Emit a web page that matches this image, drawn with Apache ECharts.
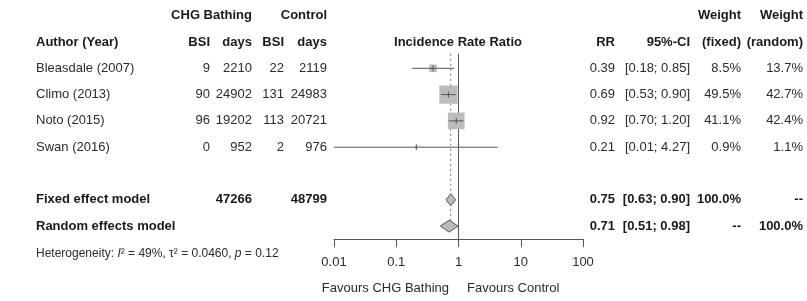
<!DOCTYPE html>
<html>
<head>
<meta charset="utf-8">
<script src="https://cdn.jsdelivr.net/npm/echarts@6/dist/echarts.min.js"></script>
<style>
  html, body { margin: 0; padding: 0; background: #fff; }
  #main { width: 807px; height: 301px; }
</style>
</head>
<body>
<div id="main"></div>
<script>
// study level data
var studies = ['Bleasdale (2007)', 'Climo (2013)', 'Noto (2015)', 'Swan (2016)'];
var chgBsi = [9, 90, 96, 0];
var chgDays = [2210, 24902, 19202, 952];
var ctlBsi = [22, 131, 113, 2];
var ctlDays = [2119, 24983, 20721, 976];
var rr = [0.39, 0.69, 0.92, 0.21];
var ciLow = [0.18, 0.53, 0.70, 0.01];
var ciHigh = [0.85, 0.90, 1.20, 4.27];
var wFixed = [8.5, 49.5, 41.1, 0.9];
var wRandom = [13.7, 42.7, 42.4, 1.1];

// pooled estimates
var modelNames = ['Fixed effect model', 'Random effects model'];
var modelRR = [0.75, 0.71];
var modelLow = [0.63, 0.51];
var modelHigh = [0.90, 0.98];
var modelChgDays = ['47266', ''];
var modelCtlDays = ['48799', ''];
var modelWFixed = ['100.0%', '--'];
var modelWRandom = ['--', '100.0%'];

var xTicks = [0.01, 0.1, 1, 10, 100];

(function() {
    var FONT = '"Liberation Sans", Arial, sans-serif';
    var ROW0 = 42, ROWH = 26.3;   // pixel y of header row, row spacing
    var DARK = '#555', TXT = '#2b2b2b';

    var chart = echarts.init(document.getElementById('main'), null, {renderer: 'canvas'});

    function rowY(r) { return ROW0 + ROWH * r; }
    function fmt2(v) { return v.toFixed(2); }
    function ci(lo, hi) { return '[' + fmt2(lo) + '; ' + fmt2(hi) + ']'; }

    var graphics = [];
    function txt(s, x, y, align, bold, size) {
        graphics.push({
            type: 'text', x: x, y: y, silent: true,
            style: {
                text: s, fill: bold ? '#1a1a1a' : TXT,
                font: (bold ? 'bold ' : '') + (size || 13) + 'px ' + FONT,
                align: align || 'left', verticalAlign: 'middle',
                textAlign: align || 'left', textVerticalAlign: 'middle'
            }
        });
    }

    // column headers
    txt('CHG Bathing', 252, 15, 'right', true);
    txt('Control', 327, 15, 'right', true);
    txt('Weight', 741, 15, 'right', true);
    txt('Weight', 803, 15, 'right', true);
    txt('Author (Year)', 36, rowY(0), 'left', true);
    txt('BSI', 210, rowY(0), 'right', true);
    txt('days', 252, rowY(0), 'right', true);
    txt('BSI', 284, rowY(0), 'right', true);
    txt('days', 327, rowY(0), 'right', true);
    txt('Incidence Rate Ratio', 458, rowY(0), 'center', true);
    txt('RR', 615, rowY(0), 'right', true);
    txt('95%-CI', 690, rowY(0), 'right', true);
    txt('(fixed)', 741, rowY(0), 'right', true);
    txt('(random)', 803, rowY(0), 'right', true);

    var studyRows = [];
    studies.forEach(function(name, i) {
        var r = i + 1, y = rowY(r);
        studyRows.push(r);
        txt(name, 36, y, 'left');
        txt(String(chgBsi[i]), 210, y, 'right');
        txt(String(chgDays[i]), 252, y, 'right');
        txt(String(ctlBsi[i]), 284, y, 'right');
        txt(String(ctlDays[i]), 327, y, 'right');
        txt(fmt2(rr[i]), 615, y, 'right');
        txt(ci(ciLow[i], ciHigh[i]), 690, y, 'right');
        txt(wFixed[i].toFixed(1) + '%', 741, y, 'right');
        txt(wRandom[i].toFixed(1) + '%', 803, y, 'right');
    });

    var modelRows = [];
    modelNames.forEach(function(name, j) {
        var r = studies.length + 2 + j, y = rowY(r);
        modelRows.push(r);
        txt(name, 36, y, 'left', true);
        txt(modelChgDays[j], 252, y, 'right', true);
        txt(modelCtlDays[j], 327, y, 'right', true);
        txt(fmt2(modelRR[j]), 615, y, 'right', true);
        txt(ci(modelLow[j], modelHigh[j]), 690, y, 'right', true);
        txt(modelWFixed[j], 741, y, 'right', true);
        txt(modelWRandom[j], 803, y, 'right', true);
    });

    // heterogeneity line, italic symbols
    graphics.push({
        type: 'text', x: 36, y: rowY(modelRows[1] + 1) + 1, silent: true,
        style: {
            text: 'Heterogeneity: {i|I}\u00b2 = 49%, \u03c4\u00b2 = 0.0460, {i|p} = 0.12',
            fill: TXT, font: '12px ' + FONT,
            align: 'left', verticalAlign: 'middle', textAlign: 'left', textVerticalAlign: 'middle',
            rich: { i: { fontStyle: 'italic', fontSize: 12, fontFamily: FONT, fill: TXT } }
        }
    });
    txt('Favours CHG Bathing', 449, 288, 'right', false, 13);
    txt('Favours Control', 467, 288, 'left', false, 13);

    var lastRow = modelRows[1] + 0.5;

    // reference lines: [x, rowFrom, rowTo, dotted]
    var refData = [
        [1, 0.45, lastRow, 0],
        [modelRR[0], 0.45, modelRows[1], 1]
    ];

    var studyData = studies.map(function(s, i) {
        return [rr[i], studyRows[i], ciLow[i], ciHigh[i], wFixed[i]];
    });
    var modelData = modelNames.map(function(s, j) {
        return [modelRR[j], modelRows[j], modelLow[j], modelHigh[j]];
    });

    var option = {
        animation: false,
        backgroundColor: '#fff',
        grid: { left: 334, right: 224, top: ROW0, bottom: 301 - rowY(lastRow) },
        xAxis: {
            type: 'log', logBase: 10, min: xTicks[0], max: xTicks[xTicks.length - 1],
            position: 'bottom',
            axisLine: { show: true, onZero: false, lineStyle: { color: DARK, width: 1 } },
            axisTick: { show: true, inside: false, length: 8, lineStyle: { color: DARK } },
            axisLabel: {
                margin: 17, color: TXT, fontSize: 13, fontFamily: FONT,
                formatter: function(v) { return String(+(+v).toPrecision(2)); }
            },
            splitLine: { show: false },
            minorTick: { show: false }
        },
        yAxis: { type: 'value', min: 0, max: lastRow, inverse: true, show: false },
        graphic: graphics,
        series: [
            {
                type: 'custom', name: 'ref', data: refData, clip: false, silent: true, z: 1,
                renderItem: function(params, api) {
                    var p1 = api.coord([api.value(0), api.value(1)]);
                    var p2 = api.coord([api.value(0), api.value(2)]);
                    var dotted = api.value(3) === 1;
                    return {
                        type: 'line',
                        shape: { x1: p1[0], y1: p1[1], x2: p2[0], y2: p2[1] },
                        style: { stroke: dotted ? '#777' : DARK, lineWidth: 1, lineDash: dotted ? [2, 3] : null }
                    };
                }
            },
            {
                type: 'custom', name: 'studies', data: studyData, clip: false, silent: true, z: 3,
                renderItem: function(params, api) {
                    var c = api.coord([api.value(0), api.value(1)]);
                    var lo = api.coord([api.value(2), api.value(1)]);
                    var hi = api.coord([api.value(3), api.value(1)]);
                    var side = Math.max(2, Math.sqrt(api.value(4)) * 2.6);
                    return {
                        type: 'group',
                        children: [
                            { type: 'rect', shape: { x: c[0] - side / 2, y: c[1] - side / 2, width: side, height: side },
                              style: { fill: '#bcbcbc' } },
                            { type: 'line', shape: { x1: lo[0], y1: lo[1], x2: hi[0], y2: hi[1] },
                              style: { stroke: DARK, lineWidth: 1 } },
                            { type: 'line', shape: { x1: c[0], y1: c[1] - 3, x2: c[0], y2: c[1] + 3 },
                              style: { stroke: DARK, lineWidth: 1 } }
                        ]
                    };
                }
            },
            {
                type: 'custom', name: 'models', data: modelData, clip: false, silent: true, z: 3,
                renderItem: function(params, api) {
                    var c = api.coord([api.value(0), api.value(1)]);
                    var lo = api.coord([api.value(2), api.value(1)]);
                    var hi = api.coord([api.value(3), api.value(1)]);
                    return {
                        type: 'polygon',
                        shape: { points: [[lo[0], c[1]], [c[0], c[1] - 6], [hi[0], c[1]], [c[0], c[1] + 6]] },
                        style: { fill: '#bbbbbb', stroke: DARK, lineWidth: 1 }
                    };
                }
            }
        ]
    };

    chart.setOption(option);
    window.forestChart = chart;
})();
</script>
</body>
</html>
